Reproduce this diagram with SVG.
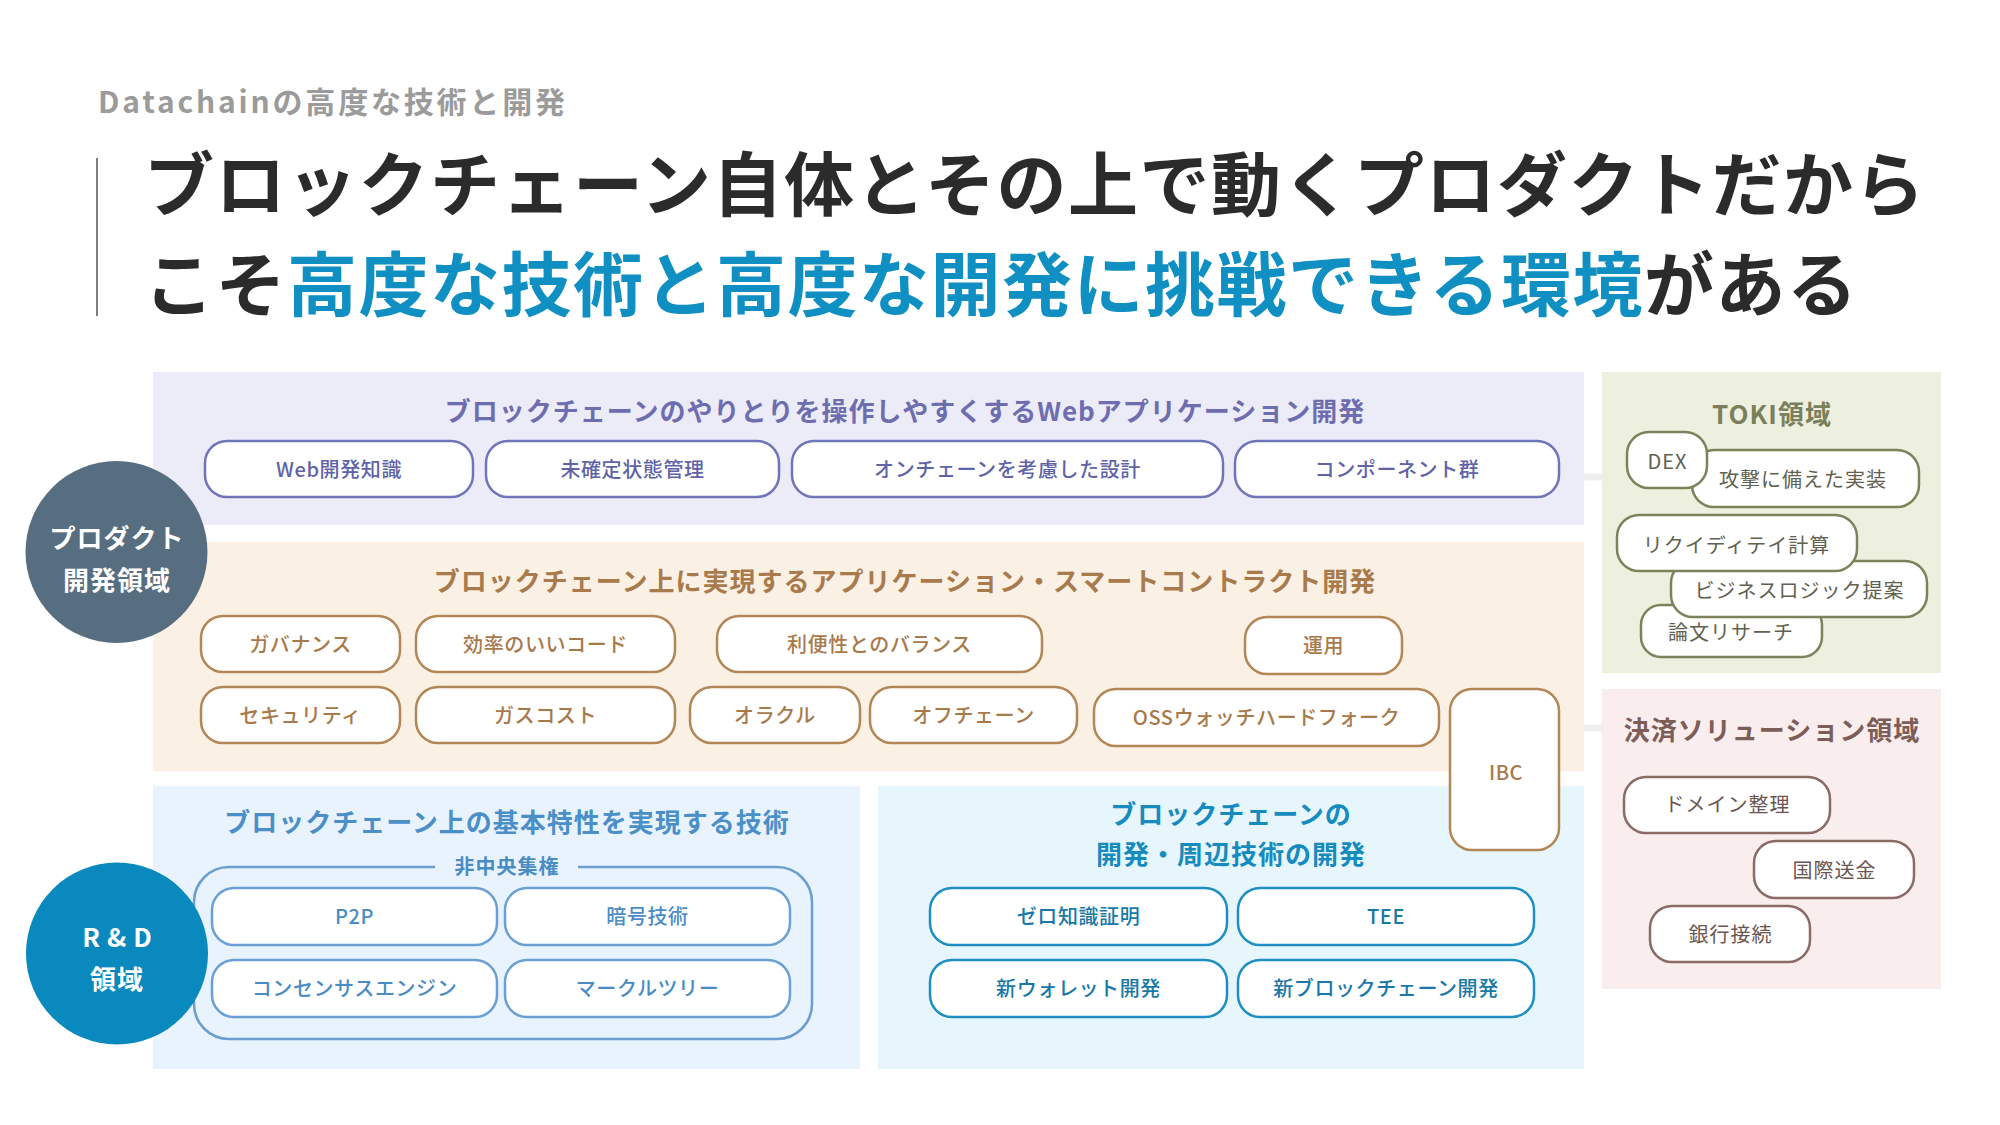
<svg xmlns="http://www.w3.org/2000/svg" width="2000" height="1125" viewBox="0 0 2000 1125">
<style>
text{font-family:"Noto Sans CJK JP","Noto Sans",sans-serif}
.sub{font-size:30px;font-weight:700;fill:#9b9b9b;letter-spacing:2.8px}
.h1{font-size:70px;font-weight:700;fill:#2b2b2b;letter-spacing:1.5px}
.blue{fill:#1090c2}
.pt{font-size:26px;font-weight:700;text-anchor:middle;letter-spacing:1px}
.pill{fill:#fff;stroke-width:2.5}
.lb{font-size:20px;font-weight:500;text-anchor:middle;letter-spacing:0.6px}
.rl{font-size:20px;font-weight:400;text-anchor:middle;letter-spacing:1px}
.ct{font-size:26px;font-weight:700;fill:#fff;text-anchor:middle;letter-spacing:1px}
.pa{stroke:#7074b8}.ta{fill:#5f63a8}
.pb{stroke:#b38656}.tb{fill:#a8794b}
.pc{stroke:#6aa0d3}.tc{fill:#4a8cc4}
.pd{stroke:#1e8fc1}.td{fill:#1878a7}
.pe{stroke:#7e825b}.te{fill:#5f604f}
.pf{stroke:#8a6b65}.tf{fill:#6b5551}
.conn{stroke:#efefef;stroke-width:7}
</style>

<g id="header">
<text class="sub" x="98" y="113">Datachainの高度な技術と開発</text>
<line x1="97" y1="158" x2="97" y2="316" stroke="#555" stroke-width="1.5"/>
<text class="h1" x="144" y="211">ブロックチェーン自体とその上で動くプロダクトだから</text>
<text class="h1" x="144" y="311">こそ<tspan class="blue">高度な技術と高度な開発に挑戦できる環境</tspan>がある</text>
</g>

<g id="connectors">
<line class="conn" x1="1584" y1="477" x2="1602" y2="477"/>
<line class="conn" x1="1584" y1="728" x2="1602" y2="728"/>
</g>

<g id="panel-web">
<rect x="153" y="372" width="1431" height="153" fill="#ecebf8"/>
<text class="pt" x="905" y="421" fill="#6d6db0">ブロックチェーンのやりとりを操作しやすくするWebアプリケーション開発</text>
</g>
<g id="node-web1"><rect class="pill pa" x="205" y="441" width="268" height="56" rx="22"/><text class="lb ta" x="339" y="476.6">Web開発知識</text></g>
<g id="node-web2"><rect class="pill pa" x="486" y="441" width="293" height="56" rx="22"/><text class="lb ta" x="632.5" y="476.6">未確定状態管理</text></g>
<g id="node-web3"><rect class="pill pa" x="792" y="441" width="431" height="56" rx="22"/><text class="lb ta" x="1007.5" y="476.6">オンチェーンを考慮した設計</text></g>
<g id="node-web4"><rect class="pill pa" x="1235" y="441" width="324" height="56" rx="22"/><text class="lb ta" x="1397" y="476.6">コンポーネント群</text></g>

<g id="panel-app">
<rect x="153" y="542" width="1431" height="229" fill="#fbf0e4"/>
<text class="pt" x="905" y="591" fill="#a87a4c">ブロックチェーン上に実現するアプリケーション・スマートコントラクト開発</text>
</g>
<g id="node-app1"><rect class="pill pb" x="201" y="616" width="199" height="56" rx="22"/><text class="lb tb" x="300.5" y="651.6">ガバナンス</text></g>
<g id="node-app2"><rect class="pill pb" x="416" y="616" width="259" height="56" rx="22"/><text class="lb tb" x="545.5" y="651.6">効率のいいコード</text></g>
<g id="node-app3"><rect class="pill pb" x="717" y="616" width="325" height="56" rx="22"/><text class="lb tb" x="879.5" y="651.6">利便性とのバランス</text></g>
<g id="node-app4"><rect class="pill pb" x="1245" y="617" width="157" height="57" rx="22"/><text class="lb tb" x="1323.5" y="653">運用</text></g>
<g id="node-app5"><rect class="pill pb" x="201" y="687" width="199" height="56" rx="22"/><text class="lb tb" x="300.5" y="722.6">セキュリティ</text></g>
<g id="node-app6"><rect class="pill pb" x="416" y="687" width="259" height="56" rx="22"/><text class="lb tb" x="545.5" y="722.6">ガスコスト</text></g>
<g id="node-app7"><rect class="pill pb" x="690" y="687" width="170" height="56" rx="22"/><text class="lb tb" x="775" y="722.6">オラクル</text></g>
<g id="node-app8"><rect class="pill pb" x="870" y="687" width="207" height="56" rx="22"/><text class="lb tb" x="973.5" y="722.6">オフチェーン</text></g>
<g id="node-app9"><rect class="pill pb" x="1094" y="689" width="345" height="57" rx="22"/><text class="lb tb" x="1266.5" y="725">OSSウォッチハードフォーク</text></g>

<g id="panel-base">
<rect x="153" y="786" width="707" height="283" fill="#e9f3fd"/>
<text class="pt" x="507" y="832" fill="#4a8fc8">ブロックチェーン上の基本特性を実現する技術</text>
</g>
<g id="group-decentral">
<path d="M578 867 H777 A35 35 0 0 1 812 902 V1004 A35 35 0 0 1 777 1039 H229 A35 35 0 0 1 194 1004 V902 A35 35 0 0 1 229 867 H435" fill="none" stroke="#6b9fd1" stroke-width="2.5"/>
<text x="507" y="873.6" font-size="20" font-weight="700" text-anchor="middle" fill="#4a8cc4" letter-spacing="1">非中央集権</text>
</g>
<g id="node-base1"><rect class="pill pc" x="212" y="888" width="285" height="57" rx="22"/><text class="lb tc" x="354.5" y="924">P2P</text></g>
<g id="node-base2"><rect class="pill pc" x="505" y="888" width="285" height="57" rx="22"/><text class="lb tc" x="647.5" y="924">暗号技術</text></g>
<g id="node-base3"><rect class="pill pc" x="212" y="960" width="285" height="57" rx="22"/><text class="lb tc" x="354.5" y="996">コンセンサスエンジン</text></g>
<g id="node-base4"><rect class="pill pc" x="505" y="960" width="285" height="57" rx="22"/><text class="lb tc" x="647.5" y="996">マークルツリー</text></g>

<g id="panel-dev">
<rect x="878" y="786" width="706" height="283" fill="#e7f6fd"/>
<text class="pt" x="1231" y="824" fill="#168bbf">ブロックチェーンの</text>
<text class="pt" x="1231" y="864" fill="#168bbf">開発・周辺技術の開発</text>
</g>
<g id="node-dev1"><rect class="pill pd" x="930" y="888" width="297" height="57" rx="22"/><text class="lb td" x="1078.5" y="924">ゼロ知識証明</text></g>
<g id="node-dev2"><rect class="pill pd" x="1238" y="888" width="296" height="57" rx="22"/><text class="lb td" x="1386" y="924">TEE</text></g>
<g id="node-dev3"><rect class="pill pd" x="930" y="960" width="297" height="57" rx="22"/><text class="lb td" x="1078.5" y="996">新ウォレット開発</text></g>
<g id="node-dev4"><rect class="pill pd" x="1238" y="960" width="296" height="57" rx="22"/><text class="lb td" x="1386" y="996">新ブロックチェーン開発</text></g>

<g id="node-ibc"><rect class="pill pb" x="1450" y="689" width="109" height="161" rx="22"/><text class="lb tb" x="1506" y="780">IBC</text></g>

<g id="circle-product">
<circle cx="116.5" cy="552" r="91" fill="#576d80"/>
<text class="ct" x="117" y="548">プロダクト</text>
<text class="ct" x="117" y="590">開発領域</text>
</g>
<g id="circle-rd">
<circle cx="117" cy="953.5" r="91" fill="#0a89bf"/>
<text class="ct" x="120.5" y="947" style="letter-spacing:7px">R&amp;D</text>
<text class="ct" x="117" y="989">領域</text>
</g>

<g id="panel-toki">
<rect x="1602" y="372" width="339" height="301" fill="#eef0df"/>
<text class="pt" x="1772" y="424" fill="#7a7f5c">TOKI領域</text>
</g>
<g id="node-toki-attack"><rect class="pill pe" x="1692" y="450" width="227" height="57" rx="22"/><text class="rl te" x="1803" y="486.6">攻撃に備えた実装</text></g>
<g id="node-toki-dex"><rect class="pill pe" x="1627" y="432" width="80" height="56" rx="22"/><text class="rl te" x="1667.5" y="468.6">DEX</text></g>
<g id="node-toki-paper"><rect class="pill pe" x="1641" y="605" width="181" height="52" rx="20"/><text class="rl te" x="1731" y="639.6">論文リサーチ</text></g>
<g id="node-toki-biz"><rect class="pill pe" x="1671" y="561" width="256" height="56" rx="22"/><text class="rl te" x="1799.5" y="597.6">ビジネスロジック提案</text></g>
<g id="node-toki-liq"><rect class="pill pe" x="1617" y="515" width="240" height="56" rx="22"/><text class="rl te" x="1736.5" y="552.6">リクイディテイ計算</text></g>

<g id="panel-pay">
<rect x="1602" y="689" width="339" height="300" fill="#f9eded"/>
<text class="pt" x="1772" y="740" fill="#7d5d57">決済ソリューション領域</text>
</g>
<g id="node-pay1"><rect class="pill pf" x="1624" y="777" width="206" height="56" rx="22"/><text class="rl tf" x="1727.5" y="811.6">ドメイン整理</text></g>
<g id="node-pay2"><rect class="pill pf" x="1754" y="841" width="160" height="57" rx="22"/><text class="rl tf" x="1834.5" y="877.6">国際送金</text></g>
<g id="node-pay3"><rect class="pill pf" x="1650" y="906" width="160" height="56" rx="22"/><text class="rl tf" x="1730.5" y="941.6">銀行接続</text></g>
</svg>
